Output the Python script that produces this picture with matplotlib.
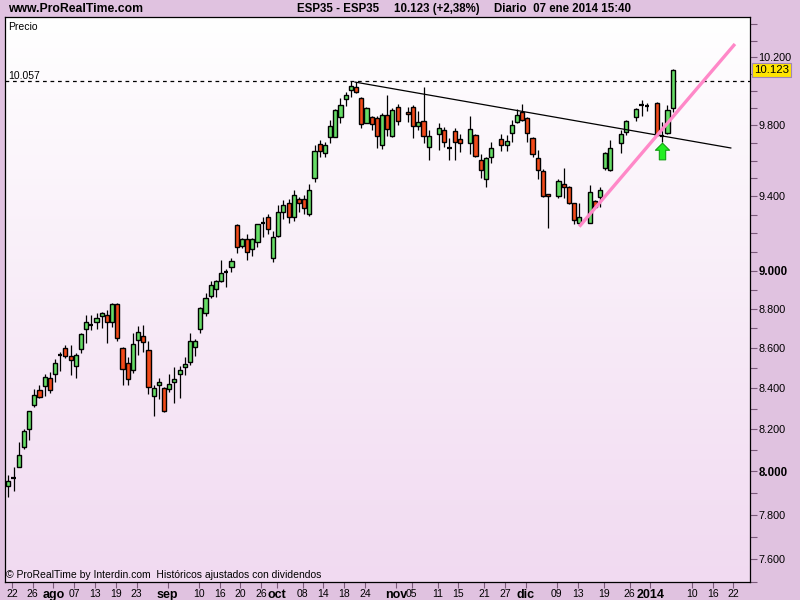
import numpy as np
import matplotlib
matplotlib.use("Agg")
import matplotlib.pyplot as plt
from matplotlib.path import Path
from matplotlib import font_manager as fm
from matplotlib.ticker import FixedLocator, NullFormatter

# ---------------- data (ESP35 daily, slot index = trading slot on axis; None = empty slot) -------------
opens = [7932, 7970, 8021, 8116, 8202, 8318, 8392, 8411, 8451, 8471,
         8566, 8601, 8561, 8511, 8596, 8697, 8718, 8733, 8764, 8769,
         8733, 8826, 8601, 8526, 8491, 8641, 8662, 8591, 8362, 8416,
         8402, 8397, 8431, 8471, 8506, 8531, 8606, 8697, 8779, 8867,
         8904, 8946, 8993, 9019, 9244, 9131, 9169, 9115, 9152, 9255,
         9288, 9067, 9185, 9315, 9364, 9288, 9386, 9386, 9304, 9502,
         9694, 9643, 9734, 9734, 9848, 9953, 10005, 10023, 9959, 9814,
         9848, 9843, 9688, 9860, 9739, 9906, None, 9877, 9906, 9796,
         9825, 9677, None, 9751, 9774, 9671, 9768, 9722, None, 9699,
         9745, 9603, 9497, 9620, None, 9722, 9688, 9756, 9819, 9877,
         9843, 9728, 9614, 9541, 9414, None, 9403, 9469, 9452, 9364,
         9255, None, 9255, 9375, 9397, 9558, 9547, None, 9699, 9762,
         None, 9848, 9918, 9914, None, 9930, 9739, 9756, 9900]
highs = [7984, 8021, 8140, 8202, 8291, 8397, 8416, 8471, 8481, 8546,
         8581, 8616, 8616, 8576, 8677, 8769, 8769, 8779, 8785, 8795,
         8831, 8831, 8606, 8556, 8677, 8713, 8718, 8636, 8416, 8451,
         8407, 8471, 8506, 8511, 8556, 8677, 8646, 8810, 8883, 8946,
         8951, 9056, 9009, 9067, 9250, 9174, 9196, 9174, 9250, 9288,
         9304, 9212, 9353, 9381, 9386, 9436, 9397, 9408, 9469, 9688,
         9716, 9705, 9831, 9895, 9959, 9994, 10057, 10050, 9964, 9906,
         9854, 9854, 9871, 9976, 9900, 9924, None, 9906, 9918, 9883,
         10023, 9774, None, 9814, 9791, 9728, 9785, 9751, None, 9854,
         9751, 9637, 9620, 9705, None, 9751, 9745, 9831, 9895, 9924,
         9848, 9734, 9660, 9553, 9414, None, 9497, 9558, 9458, 9364,
         9364, None, 9463, 9381, 9452, 9648, 9716, None, 9774, 9831,
         None, 9900, 9947, 9930, None, 9935, 9819, 9918, 10130]
lows = [7881, 7909, 8021, 8106, 8149, 8309, 8352, 8362, 8377, 8431,
        8486, 8551, 8466, 8451, 8576, 8626, 8692, 8697, 8702, 8626,
        8708, 8636, 8416, 8416, 8476, 8566, 8581, 8372, 8265, 8348,
        8284, 8382, 8328, 8352, 8466, 8516, 8561, 8677, 8764, 8857,
        8862, 8940, 8914, 8993, 9094, 9120, 9056, 9078, 9125, 9179,
        9196, 9046, 9179, 9277, 9255, 9266, 9315, 9304, 9293, 9480,
        9620, 9620, 9699, 9734, 9814, 9912, 9964, 9988, 9785, 9814,
        9774, 9671, 9665, 9739, 9734, 9802, None, 9819, 9728, 9774,
        9699, 9603, None, 9660, 9677, 9603, 9603, 9648, None, 9637,
        9620, 9502, 9452, 9586, None, 9654, 9654, 9705, 9814, 9825,
        9705, 9620, 9497, 9397, 9228, None, 9392, 9392, 9359, 9250,
        9244, None, 9255, 9336, 9342, 9547, 9541, None, 9643, 9745,
        None, 9825, 9854, 9883, None, 9739, 9705, 9751, 9877]
closes = [7956, 7970, 8078, 8192, 8289, 8367, 8357, 8456, 8392, 8526,
          8566, 8561, 8541, 8566, 8672, 8733, 8718, 8754, 8779, 8733,
          8826, 8652, 8496, 8446, 8621, 8682, 8631, 8407, 8402, 8431,
          8289, 8421, 8446, 8491, 8521, 8636, 8636, 8805, 8857, 8925,
          8946, 8988, 8993, 9051, 9125, 9169, 9099, 9169, 9250, 9255,
          9222, 9179, 9315, 9353, 9288, 9408, 9364, 9336, 9436, 9654,
          9654, 9688, 9796, 9889, 9918, 9976, 10029, 9994, 9808, 9900,
          9808, 9739, 9860, 9779, 9889, 9825, None, 9866, 9796, 9819,
          9739, 9739, None, 9785, 9705, 9671, 9705, 9699, None, 9779,
          9626, 9547, 9614, 9671, None, 9688, 9711, 9802, 9860, 9831,
          9756, 9637, 9547, 9403, 9403, None, 9485, 9452, 9364, 9271,
          9288, None, 9425, 9342, 9436, 9643, 9671, None, 9751, 9825,
          None, 9895, 9918, 9914, None, 9745, 9739, 9888, 10123]

# x-axis tick labels (slot index on the axis -> label)
tick_slots = [0, 4, 8, 12, 16, 20, 24, 30, 36, 40, 44, 48, 51, 56, 60, 64, 68,
              74, 77, 82, 86, 91, 95, 99, 105, 109, 114, 119, 123, 131, 135, 139]
tick_labels = ["22", "26", "ago", "07", "13", "19", "23", "sep", "10", "16", "20", "26", "oct",
               "08", "14", "18", "24", "nov", "05", "11", "15", "21", "27", "dic",
               "09", "13", "19", "26", "2014", "10", "16", "22"]
month_labels = {"ago", "sep", "oct", "nov", "dic", "2014"}

# price axis
major_prices = [7600, 7800, 8000, 8200, 8400, 8600, 8800, 9000, 9400, 9800, 10200]
bold_prices = [8000, 9000]
minor_prices = [7500, 7700, 7900, 8100, 8300, 8500, 8700, 8900, 9100, 9200, 9300, 9500,
                9600, 9700, 9900, 10000, 10100, 10300, 10400]

# drawn objects
high_line = 10057
resistance_x = [66.8, 139.2]
resistance_y = [10052, 9671]
support_x = [110.0, 140.0]
support_y = [9235, 10279]
signal_slot = 126
signal_price = 9654
last_price = 10123

# ---------------- figure ----------------
W, H = 800, 600
fig = plt.figure(figsize=(8, 6), dpi=100, facecolor="#E0C2E0")

def fx(px):
    return px / W

def fy(py):
    return 1 - py / H

names = {f.name for f in fm.fontManager.ttflist}
narrow = "Liberation Sans Narrow" if "Liberation Sans Narrow" in names else "Liberation Sans"
base = "Liberation Sans"

rect = [fx(5), fy(582), fx(750) - fx(5), fy(17) - fy(582)]
bg = fig.add_axes(rect, zorder=0)
grad = np.linspace(0, 1, 256)[:, None]
c_top = np.array([1.0, 1.0, 1.0])
c_bot = np.array([241, 218, 241]) / 255.0
img = c_top[None, None, :] * (1 - grad[:, :, None]) + c_bot[None, None, :] * grad[:, :, None]
bg.imshow(img, aspect="auto", extent=[0, 1, 0, 1])
bg.set_axis_off()

ax = fig.add_axes(rect, zorder=1)
ax.set_facecolor("none")
ax.set_yscale("log")

n = len(opens)
green = "#66DD66"
red = "#F24A1A"
bw = 0.8
for i in range(n):
    o, h, l, c = opens[i], highs[i], lows[i], closes[i]
    if o is None:
        continue
    ax.vlines(i, l, h, color="black", lw=0.9, zorder=3)
    if o == c:
        ax.hlines(o, i - bw / 2, i + bw / 2, color="black", lw=1.6, zorder=4)
    else:
        col = green if c > o else red
        ax.bar(i, abs(c - o), width=bw, bottom=min(o, c), color=col,
               edgecolor="black", linewidth=1.0, zorder=4)

# horizontal high line
ax.axhline(high_line, color="black", lw=0.9, ls=(0, (3, 3)), zorder=2)
ax.text(0.004, high_line, "{:,}".format(high_line).replace(",", "."),
        transform=ax.get_yaxis_transform(), ha="left", va="bottom",
        fontsize=7.5, family=base, color="black")

# trend lines
ax.plot(resistance_x, resistance_y, color="black", lw=0.9, zorder=5)
ax.plot(support_x, support_y, color="#FF88C8", lw=2.4, zorder=6, solid_capstyle="butt")

# signal arrow
arrow = Path([(0, 1), (-0.85, 0.15), (-0.38, 0.15), (-0.38, -1), (0.38, -1),
              (0.38, 0.15), (0.85, 0.15), (0, 1)], closed=True)
ax.plot([signal_slot], [signal_price], marker=arrow, markersize=12,
        color="#22EE22", markeredgecolor="#10A010", markeredgewidth=0.8, zorder=7)

# axes limits
ax.set_xlim(-0.64, 142.9)
ax.set_ylim(7498, 10443)

# y axis on the right
ax.yaxis.tick_right()
ax.yaxis.set_major_locator(FixedLocator(major_prices))
ax.yaxis.set_minor_locator(FixedLocator(minor_prices))
ax.yaxis.set_minor_formatter(NullFormatter())
ax.set_yticklabels(["{:,}".format(v).replace(",", ".") for v in major_prices])
ax.tick_params(axis="y", which="both", direction="out", length=5, width=0.8,
               color="#7A5A7A", labelsize=7.8, pad=1)
for lab, v in zip(ax.get_yticklabels(), major_prices):
    lab.set_family(base)
    if v in bold_prices:
        lab.set_fontweight("bold")
        lab.set_fontsize(8.3)

# x axis
ax.xaxis.set_major_locator(FixedLocator([s + 0.7 for s in tick_slots]))
ax.set_xticklabels(tick_labels)
ax.tick_params(axis="x", which="both", direction="out", length=4, width=0.8,
               color="#7A5A7A", labelsize=7.5, pad=1)
for lab, t in zip(ax.get_xticklabels(), tick_labels):
    lab.set_family(base)
    if t in month_labels:
        lab.set_fontweight("bold")
        lab.set_fontsize(9)

for sp in ax.spines.values():
    sp.set_color("black")
    sp.set_linewidth(0.9)

# last price box
ax.annotate("{:,}".format(last_price).replace(",", "."), xy=(1.0, last_price),
            xycoords=ax.get_yaxis_transform(), xytext=(3, 0), textcoords="offset points",
            ha="left", va="center", fontsize=8.2, family=base, color="black",
            bbox=dict(boxstyle="square,pad=0.2", fc="#FFE400", ec="#9F86B8", lw=0.8),
            annotation_clip=False, zorder=10)

# texts
ax.text(0.004, 0.992, "Precio", transform=ax.transAxes, ha="left", va="top",
        fontsize=7.5, family=base)
ax.text(0.002, 0.003, "\u00a9 ProRealTime by Interdin.com  Hist\u00f3ricos ajustados con dividendos",
        transform=ax.transAxes, ha="left", va="bottom", fontsize=7.5, family=base)

fig.text(fx(8), fy(9), "www.ProRealTime.com", ha="left", va="center",
         fontsize=8.8, family=narrow, fontweight="bold")
fig.text(fx(297), fy(9), "ESP35 - ESP35", ha="left", va="center",
         fontsize=8.3, family=narrow, fontweight="bold")
fig.text(fx(394), fy(9), "10.123 (+2,38%)", ha="left", va="center",
         fontsize=8.3, family=narrow, fontweight="bold")
fig.text(fx(494), fy(9), "Diario  07 ene 2014 15:40", ha="left", va="center",
         fontsize=8.3, family=narrow, fontweight="bold")

fig.savefig("out.png", dpi=100, facecolor=fig.get_facecolor())
